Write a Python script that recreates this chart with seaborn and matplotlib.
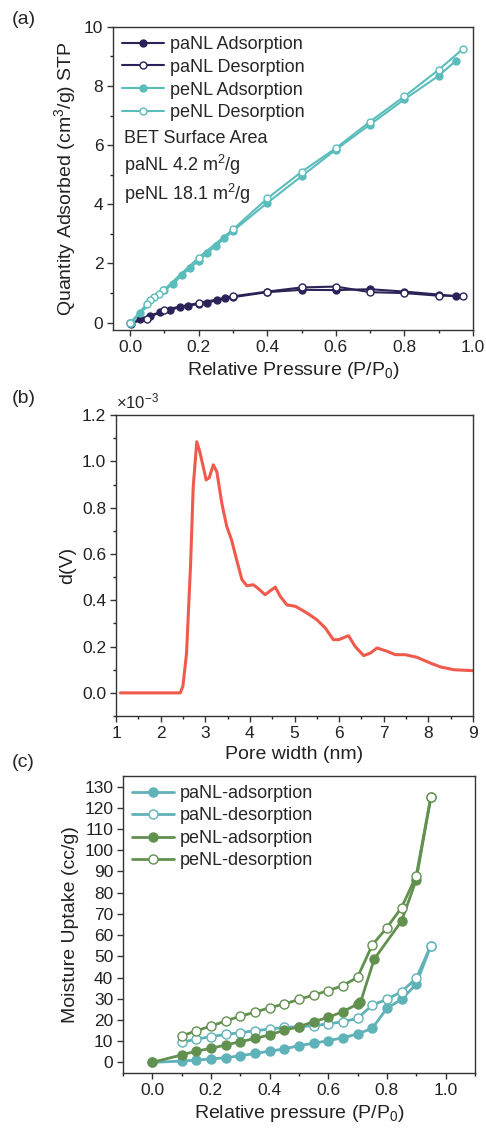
import numpy as np
import pandas as pd
import seaborn as sns
import matplotlib.pyplot as plt
from matplotlib.ticker import MultipleLocator

# (a) N2 isotherms
pa_ads_x = [0.003, 0.03, 0.058, 0.087, 0.117, 0.146, 0.169, 0.2, 0.224, 0.253, 0.277,
            0.3, 0.4, 0.5, 0.6, 0.7, 0.8, 0.9, 0.95]
pa_ads_y = [-0.05, 0.12, 0.24, 0.35, 0.44, 0.52, 0.57, 0.63, 0.68, 0.75, 0.82,
            0.86, 1.03, 1.11, 1.1, 1.13, 1.05, 0.95, 0.89]
pa_des_x = [0.97, 0.9, 0.8, 0.7, 0.6, 0.5, 0.4, 0.3, 0.2, 0.1, 0.049, 0.0]
pa_des_y = [0.91, 0.91, 1.0, 1.03, 1.22, 1.19, 1.05, 0.89, 0.66, 0.44, 0.13, -0.02]
pe_ads_x = [0.003, 0.03, 0.1, 0.125, 0.15, 0.175, 0.2, 0.225, 0.25, 0.275,
            0.3, 0.4, 0.5, 0.6, 0.7, 0.8, 0.9, 0.95]
pe_ads_y = [0.0, 0.33, 1.1, 1.3, 1.6, 1.85, 2.1, 2.35, 2.6, 2.85,
            3.1, 4.05, 4.95, 5.85, 6.7, 7.55, 8.35, 8.85]
pe_des_x = [0.97, 0.9, 0.8, 0.7, 0.6, 0.5, 0.4, 0.3, 0.2, 0.097, 0.083, 0.07, 0.058, 0.049, 0.0]
pe_des_y = [9.25, 8.55, 7.65, 6.8, 5.9, 5.1, 4.2, 3.15, 2.2, 1.09, 0.98, 0.87, 0.75, 0.64, -0.02]

# (b) pore size distribution (x1e-3)
pore_w = [1.1, 2.44, 2.5, 2.58, 2.67, 2.73, 2.81, 2.88, 3.02, 3.09, 3.18, 3.26, 3.37,
          3.48, 3.59, 3.71, 3.82, 3.93, 4.08, 4.19, 4.34, 4.45, 4.57, 4.68, 4.83,
          5.02, 5.28, 5.5, 5.69, 5.87, 5.99, 6.21, 6.36, 6.55, 6.7, 6.85, 7.07,
          7.26, 7.48, 7.74, 8.04, 8.27, 8.57, 9.0]
dv = [0.0, 0.0, 0.03, 0.17, 0.55, 0.89, 1.085, 1.04, 0.92, 0.93, 0.985, 0.955, 0.82,
      0.72, 0.66, 0.57, 0.49, 0.463, 0.467, 0.45, 0.424, 0.44, 0.457, 0.417, 0.38,
      0.374, 0.345, 0.316, 0.28, 0.23, 0.23, 0.247, 0.2, 0.161, 0.172, 0.194, 0.18,
      0.165, 0.165, 0.154, 0.129, 0.112, 0.10, 0.096]

# (c) water vapour isotherms
rh = [0.0, 0.1, 0.15, 0.2, 0.25, 0.3, 0.35, 0.4, 0.45, 0.5, 0.55, 0.6, 0.65, 0.7,
      0.75, 0.8, 0.85, 0.9, 0.95]
pa_w_ads = [0.0, 0.6, 1.1, 1.6, 2.2, 3.1, 4.2, 5.3, 6.3, 7.9, 9.0, 10.2, 11.6, 13.4,
            16.0, 25.5, 29.7, 36.8, 55.0]
rh_des = [0.1, 0.15, 0.2, 0.25, 0.3, 0.35, 0.4, 0.45, 0.5, 0.55, 0.6, 0.65, 0.7,
          0.75, 0.8, 0.85, 0.9, 0.95]
pa_w_des = [9.4, 11.0, 12.1, 13.2, 14.0, 14.9, 15.7, 16.5, 16.8, 17.3, 18.1, 19.2, 20.7,
            27.0, 29.7, 33.3, 39.6, 55.0]
rh_pe_ads = [0.0, 0.1, 0.15, 0.2, 0.25, 0.3, 0.35, 0.4, 0.45, 0.5, 0.55, 0.6, 0.65,
             0.7, 0.71, 0.757, 0.85, 0.9, 0.95]
pe_w_ads = [0.0, 3.5, 5.3, 6.6, 8.2, 9.7, 11.3, 12.9, 15.2, 16.8, 19.2, 21.2, 23.9,
            27.5, 28.3, 48.7, 66.6, 86.0, 125.0]
pe_w_des = [12.4, 14.9, 17.1, 19.5, 21.8, 23.6, 25.8, 27.5, 29.7, 31.7, 33.8, 36.2,
            40.1, 55.3, 63.5, 72.9, 87.9, 125.0]

navy = '#2b2358'
teal_a = '#5bbcbc'
teal_c = '#5fb2b8'
green = '#62914f'
red = '#f05a4c'

sns.set_theme(style='ticks')
plt.rcParams['font.family'] = ['Liberation Sans', 'DejaVu Sans']
plt.rcParams['mathtext.fontset'] = 'custom'
plt.rcParams['mathtext.rm'] = 'Liberation Sans'
plt.rcParams['mathtext.it'] = 'Liberation Sans'

LAB = 14
TICK = 12.5
LEG = 13

fig = plt.figure(figsize=(4.86, 11.31), dpi=100)
ax1 = fig.add_axes([0.2325, 0.7082, 0.7407, 0.268])
ax2 = fig.add_axes([0.2387, 0.3669, 0.7346, 0.2661])
ax3 = fig.add_axes([0.253, 0.0513, 0.724, 0.2626])


def iso(ax, x, y, color, label, filled, ms, lw):
    sns.lineplot(x=x, y=y, ax=ax, color=color, label=label, marker='o',
                 markersize=ms, linewidth=lw, sort=False,
                 markerfacecolor=color if filled else 'white',
                 markeredgecolor=color, markeredgewidth=1.0)


iso(ax1, pa_ads_x, pa_ads_y, navy, 'paNL Adsorption', True, 5, 1.5)
iso(ax1, pa_des_x, pa_des_y, navy, 'paNL Desorption', False, 5, 1.5)
iso(ax1, pe_ads_x, pe_ads_y, teal_a, 'peNL Adsorption', True, 5, 1.5)
iso(ax1, pe_des_x, pe_des_y, teal_a, 'peNL Desorption', False, 5, 1.5)
ax1.set_xlim(-0.05, 1.0)
ax1.set_ylim(-0.25, 10)
ax1.xaxis.set_major_locator(MultipleLocator(0.2))
ax1.xaxis.set_minor_locator(MultipleLocator(0.1))
ax1.yaxis.set_major_locator(MultipleLocator(2))
ax1.yaxis.set_minor_locator(MultipleLocator(1))
ax1.set_xlabel('Relative Pressure (P/P$_0$)', fontsize=LAB)
ax1.set_ylabel('Quantity Adsorbed (cm$^3$/g) STP', fontsize=LAB)
ax1.legend(loc='upper left', frameon=False, fontsize=LEG, handlelength=2.3,
           borderaxespad=0.2, borderpad=0.3, labelspacing=0.32, handletextpad=0.35)
ax1.text(0.03, 0.66, 'BET Surface Area\npaNL 4.2 m$^2$/g\npeNL 18.1 m$^2$/g',
         transform=ax1.transAxes, fontsize=LEG, va='top', linespacing=1.3)

sns.lineplot(x=pore_w, y=dv, ax=ax2, color=red, linewidth=2.2, sort=False)
ax2.set_xlim(1, 9)
ax2.set_ylim(-0.1, 1.2)
ax2.xaxis.set_major_locator(MultipleLocator(1))
ax2.xaxis.set_minor_locator(MultipleLocator(0.5))
ax2.yaxis.set_major_locator(MultipleLocator(0.2))
ax2.yaxis.set_minor_locator(MultipleLocator(0.1))
ax2.yaxis.set_major_formatter(plt.FormatStrFormatter('%.1f'))
ax2.set_xlabel('Pore width (nm)', fontsize=LAB)
ax2.set_ylabel('d(V)', fontsize=LAB)
ax2.text(0.0, 1.012, '×10$^{-3}$', transform=ax2.transAxes, fontsize=12, va='bottom')

iso(ax3, rh, pa_w_ads, teal_c, 'paNL-adsorption', True, 6.5, 2)
iso(ax3, rh_des, pa_w_des, teal_c, 'paNL-desorption', False, 6.5, 2)
iso(ax3, rh_pe_ads, pe_w_ads, green, 'peNL-adsorption', True, 6.5, 2)
iso(ax3, rh_des, pe_w_des, green, 'peNL-desorption', False, 6.5, 2)
ax3.set_xlim(-0.1, 1.1)
ax3.set_ylim(-5, 135)
ax3.xaxis.set_major_locator(MultipleLocator(0.2))
ax3.xaxis.set_minor_locator(MultipleLocator(0.1))
ax3.yaxis.set_major_locator(MultipleLocator(10))
ax3.set_xlabel('Relative pressure (P/P$_0$)', fontsize=LAB)
ax3.set_ylabel('Moisture Uptake (cc/g)', fontsize=LAB)
ax3.legend(loc='upper left', frameon=False, fontsize=LEG, handlelength=2.3,
           borderaxespad=0.2, borderpad=0.3, labelspacing=0.3, handletextpad=0.35)

for ax in (ax1, ax2, ax3):
    for s in ax.spines.values():
        s.set_linewidth(1.0)
        s.set_color('#333333')
    ax.tick_params(which='major', direction='out', length=4, width=1, labelsize=TICK,
                   colors='#333333', labelcolor='#222222', pad=3)
    ax.tick_params(which='minor', direction='out', length=2, width=1)
    ax.xaxis.label.set_color('#222222')
    ax.yaxis.label.set_color('#222222')

fig.text(0.025, 0.990, '(a)', fontsize=14, va='top')
fig.text(0.025, 0.655, '(b)', fontsize=14, va='top')
fig.text(0.025, 0.333, '(c)', fontsize=14, va='top')

fig.savefig('out.png', dpi=100)
